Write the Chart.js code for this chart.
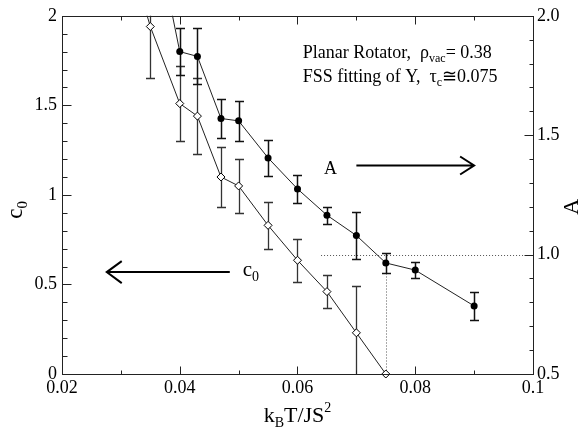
<!DOCTYPE html>
<html><head><meta charset="utf-8">
<script src="https://cdn.jsdelivr.net/npm/chart.js@4/dist/chart.umd.min.js"></script>
<style>html,body{margin:0;padding:0;background:#fff;}#wrap{width:584px;height:438px;}</style>
</head><body><div id="wrap"><canvas id="c" width="584" height="438"></canvas></div>
<script>
// ---- data ----
const xC0 = [0.03, 0.035, 0.04, 0.043, 0.047, 0.05, 0.055, 0.06, 0.065, 0.07, 0.075];
const c0Vals = [2.50, 1.94, 1.51, 1.44, 1.10, 1.05, 0.83, 0.635, 0.46, 0.23, 0.0];
const c0Err = [0.30, 0.29, 0.21, 0.21, 0.17, 0.15, 0.13, 0.12, 0.09, 0.26, 0.0];
const xA = [0.035, 0.04, 0.043, 0.047, 0.05, 0.055, 0.06, 0.065, 0.07, 0.075, 0.08, 0.09];
const aVals = [2.46, 1.85, 1.83, 1.57, 1.56, 1.405, 1.275, 1.165, 1.08, 0.965, 0.935, 0.785];
const aErr = [0.10, 0.10, 0.117, 0.081, 0.083, 0.076, 0.06, 0.035, 0.098, 0.041, 0.034, 0.06];
const xTickLabels = ['0.02', '0.04', '0.06', '0.08', '0.1'];
const c0TickLabels = ['0', '0.5', '1', '1.5', '2'];
const aTickLabels = ['0.5', '1.0', '1.5', '2.0'];

const SERIF = '"Liberation Serif", "DejaVu Serif", serif';
function pickLabel(list, v) {
  for (const s of list) if (Math.abs(parseFloat(s) - v) < 1e-6) return s;
  return '';
}

function drawRich(ctx, parts, x, y, align) {
  let w = 0;
  parts.forEach(p => { ctx.font = p.size + 'px ' + SERIF; w += ctx.measureText(p.t).width; });
  let cx = align === 'center' ? x - w / 2 : x;
  ctx.textBaseline = 'alphabetic';
  ctx.textAlign = 'left';
  parts.forEach(p => {
    ctx.font = p.size + 'px ' + SERIF;
    ctx.fillText(p.t, cx, y + (p.dy || 0));
    cx += ctx.measureText(p.t).width;
  });
}

const decoPlugin = {
  id: 'deco',
  beforeDatasetsDraw(chart) {
    const ctx = chart.ctx, ca = chart.chartArea;
    const xs = chart.scales.x, ys = chart.scales.y, y2 = chart.scales.y2;
    ctx.save();
    ctx.beginPath();
    ctx.rect(ca.left, ca.top, ca.right - ca.left, ca.bottom - ca.top);
    ctx.clip();
    // dotted guide lines
    ctx.strokeStyle = '#555';
    ctx.lineWidth = 1;
    ctx.setLineDash([1, 2]);
    const yA1 = Math.round(y2.getPixelForValue(1.0)) + 0.5;
    ctx.beginPath();
    ctx.moveTo(xs.getPixelForValue(0.064), yA1);
    ctx.lineTo(xs.getPixelForValue(0.1), yA1);
    const xv = Math.round(xs.getPixelForValue(0.075)) + 0.5;
    ctx.moveTo(xv, yA1);
    ctx.lineTo(xv, ys.getPixelForValue(0));
    ctx.stroke();
    ctx.setLineDash([]);
    // error bars
    function bars(xv, vals, errs, scale, color, lw) {
      ctx.strokeStyle = color;
      ctx.lineWidth = lw;
      for (let i = 0; i < xv.length; i++) {
        if (!errs[i]) continue;
        const px = Math.round(xs.getPixelForValue(xv[i])) + 0.5;
        const t = Math.round(scale.getPixelForValue(vals[i] + errs[i])) + 0.5;
        const b = Math.round(scale.getPixelForValue(vals[i] - errs[i])) + 0.5;
        ctx.beginPath();
        ctx.moveTo(px, t); ctx.lineTo(px, b);
        ctx.moveTo(px - 4.5, t); ctx.lineTo(px + 4.5, t);
        ctx.moveTo(px - 4.5, b); ctx.lineTo(px + 4.5, b);
        ctx.stroke();
      }
    }
    bars(xC0, c0Vals, c0Err, ys, '#333', 1.3);
    bars(xA, aVals, aErr, y2, '#111', 1.5);
    ctx.restore();
  },
  afterDraw(chart) {
    const ctx = chart.ctx, ca = chart.chartArea;
    const xs = chart.scales.x, ys = chart.scales.y, y2 = chart.scales.y2;
    ctx.save();
    ctx.strokeStyle = '#222';
    ctx.fillStyle = '#000';
    ctx.lineWidth = 1;
    const L = Math.round(ca.left) + 0.5, R = Math.round(ca.right) + 0.5;
    const T = Math.round(ca.top) + 0.5, B = Math.round(ca.bottom) + 0.5;
    ctx.strokeRect(L, T, R - L, B - T);
    ctx.beginPath();
    // x ticks (bottom and top), every 0.01
    for (let k = 2; k <= 10; k++) {
      const v = k / 100;
      const len = (k % 2 === 0) ? 8 : 4;
      const px = Math.round(xs.getPixelForValue(v)) + 0.5;
      ctx.moveTo(px, B); ctx.lineTo(px, B - len);
      ctx.moveTo(px, T); ctx.lineTo(px, T + len);
    }
    // left ticks every 0.1
    for (let k = 0; k <= 20; k++) {
      const v = k / 10;
      const len = (k % 5 === 0) ? 9 : 5;
      const py = Math.round(ys.getPixelForValue(v)) + 0.5;
      ctx.moveTo(L, py); ctx.lineTo(L + len, py);
    }
    // right ticks every 0.1
    for (let k = 5; k <= 20; k++) {
      const v = k / 10;
      const len = (k % 5 === 0) ? 9 : 4;
      const py = Math.round(y2.getPixelForValue(v)) + 0.5;
      ctx.moveTo(R, py); ctx.lineTo(R - len, py);
    }
    ctx.stroke();

    // arrows
    ctx.lineWidth = 2;
    ctx.strokeStyle = '#000';
    const ay = y2.getPixelForValue(1.373);
    const a0 = xs.getPixelForValue(0.07), a1 = xs.getPixelForValue(0.09);
    ctx.beginPath();
    ctx.moveTo(a0, ay); ctx.lineTo(a1, ay);
    ctx.moveTo(a1 - 14, ay - 9); ctx.lineTo(a1, ay); ctx.lineTo(a1 - 14, ay + 9);
    ctx.stroke();
    const cy = ys.getPixelForValue(0.569);
    const c0a = xs.getPixelForValue(0.0485), c1a = xs.getPixelForValue(0.0276);
    ctx.beginPath();
    ctx.moveTo(c0a, cy); ctx.lineTo(c1a, cy);
    ctx.moveTo(c1a + 15, cy - 11); ctx.lineTo(c1a, cy); ctx.lineTo(c1a + 15, cy + 11);
    ctx.stroke();

    // arrow labels
    drawRich(ctx, [{t: 'A', size: 18}], xs.getPixelForValue(0.0645), ay + 8, 'left');
    drawRich(ctx, [{t: 'c', size: 21}, {t: '0', size: 14, dy: 5}], xs.getPixelForValue(0.0507), cy + 4, 'left');

    // annotation text
    const tx = xs.getPixelForValue(0.0609);
    drawRich(ctx, [{t: 'Planar Rotator,  \u03C1', size: 18}, {t: 'vac', size: 12, dy: 4}, {t: '= 0.38', size: 18}],
      tx, ys.getPixelForValue(1.765), 'left');
    drawRich(ctx, [{t: 'FSS fitting of Y,  \u03C4', size: 18}, {t: 'c', size: 12, dy: 4}, {t: '\u22450.075', size: 18}],
      tx, ys.getPixelForValue(1.628), 'left');

    // axis titles
    const xc = (ca.left + ca.right) / 2;
    drawRich(ctx, [{t: 'k', size: 22}, {t: 'B', size: 14, dy: 5}, {t: 'T/JS', size: 22}, {t: '2', size: 14, dy: -10}], xc, 422, 'center');
    ctx.save();
    ctx.translate(22, (ca.top + ca.bottom) / 2 + 15);
    ctx.rotate(-Math.PI / 2);
    drawRich(ctx, [{t: 'c', size: 23}, {t: '0', size: 15, dy: 5}], 0, 0, 'center');
    ctx.restore();
    ctx.save();
    ctx.translate(578, (ca.top + ca.bottom) / 2 + 12);
    ctx.rotate(-Math.PI / 2);
    drawRich(ctx, [{t: 'A', size: 22}], 0, 0, 'center');
    ctx.restore();
    ctx.restore();
  }
};

const tickFont = { family: SERIF, size: 18 };
new Chart(document.getElementById('c'), {
  type: 'scatter',
  data: {
    datasets: [
      {
        label: 'c0',
        data: xC0.map((x, i) => ({ x: x, y: c0Vals[i] })),
        yAxisID: 'y',
        showLine: true,
        borderColor: '#222',
        borderWidth: 1,
        pointStyle: 'rectRot',
        pointRadius: 4,
        pointBackgroundColor: '#fff',
        pointBorderColor: '#000',
        pointBorderWidth: 1,
        clip: { left: 0, top: 0, right: 0, bottom: 6 }
      },
      {
        label: 'A',
        data: xA.map((x, i) => ({ x: x, y: aVals[i] })),
        yAxisID: 'y2',
        showLine: true,
        borderColor: '#222',
        borderWidth: 1,
        pointStyle: 'circle',
        pointRadius: 3.5,
        pointBackgroundColor: '#000',
        pointBorderColor: '#000',
        pointBorderWidth: 0,
        clip: { left: 0, top: 0, right: 0, bottom: 0 }
      }
    ]
  },
  options: {
    responsive: false,
    animation: false,
    devicePixelRatio: 1,
    layout: { padding: { top: 11, left: 0, right: 0, bottom: 0 } },
    plugins: { legend: { display: false }, tooltip: { enabled: false } },
    scales: {
      x: {
        type: 'linear', position: 'bottom', min: 0.02, max: 0.1,
        afterFit: s => { s.height = 64; },
        grid: { display: false, drawTicks: false },
        border: { display: false },
        ticks: { stepSize: 0.02, padding: 3, color: '#000', font: tickFont, maxRotation: 0,
          callback: v => pickLabel(xTickLabels, v) }
      },
      y: {
        type: 'linear', position: 'left', min: 0, max: 2,
        afterFit: s => { s.width = 62; },
        grid: { display: false, drawTicks: false },
        border: { display: false },
        ticks: { stepSize: 0.5, padding: 5, color: '#000', font: tickFont,
          callback: v => pickLabel(c0TickLabels, v) }
      },
      y2: {
        type: 'linear', position: 'right', min: 0.5, max: 2,
        afterFit: s => { s.width = 51; },
        grid: { display: false, drawTicks: false },
        border: { display: false },
        ticks: { stepSize: 0.5, padding: 4, color: '#000', font: tickFont,
          callback: v => pickLabel(aTickLabels, v) }
      }
    }
  },
  plugins: [decoPlugin]
});
</script>
</body></html>
